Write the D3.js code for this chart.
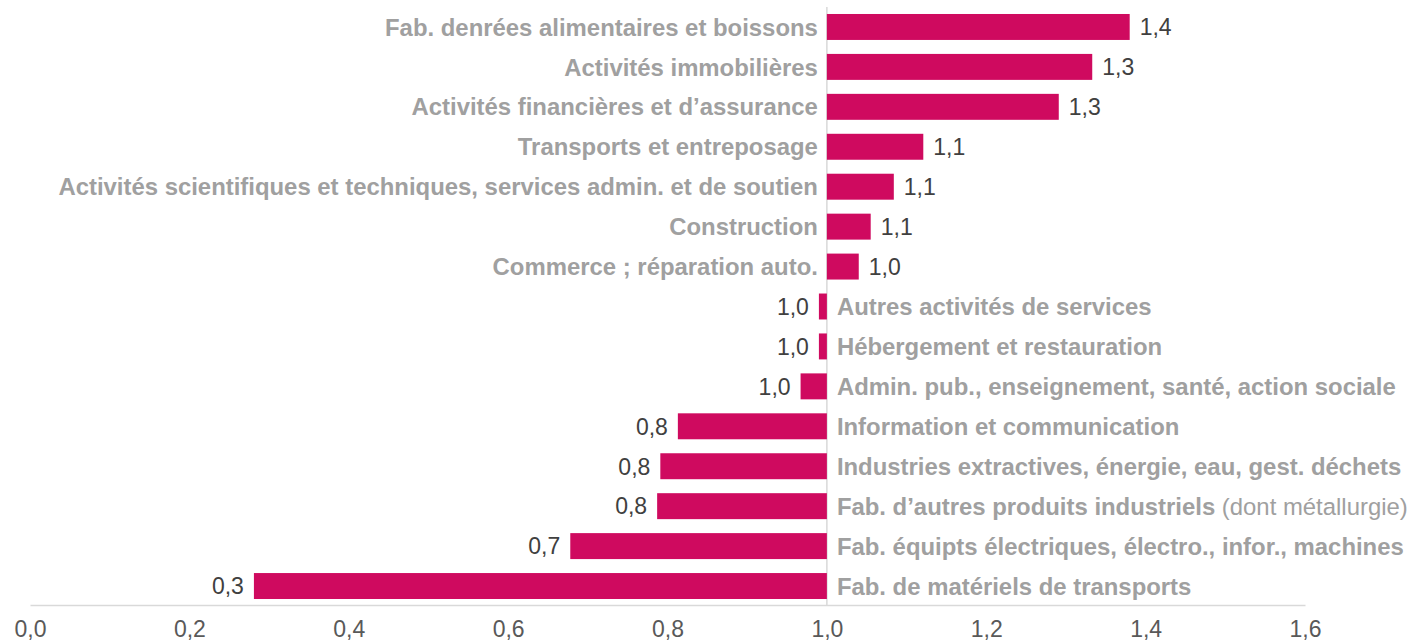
<!DOCTYPE html>
<html><head><meta charset="utf-8">
<script src="https://cdn.jsdelivr.net/npm/d3@7"></script>
<style>
html,body{margin:0;padding:0;background:#fff;}
svg{display:block;font-family:"Liberation Sans",Arial,sans-serif;}
</style></head>
<body>
<svg id="chart" width="1413" height="644"></svg>
<script>
const categories = [
  "Fab. denrées alimentaires et boissons",
  "Activités immobilières",
  "Activités financières et d’assurance",
  "Transports et entreposage",
  "Activités scientifiques et techniques, services admin. et de soutien",
  "Construction",
  "Commerce ; réparation auto.",
  "Autres activités de services",
  "Hébergement et restauration",
  "Admin. pub., enseignement, santé, action sociale",
  "Information et communication",
  "Industries extractives, énergie, eau, gest. déchets",
  "Fab. d’autres produits industriels",
  "Fab. équipts électriques, électro., infor., machines",
  "Fab. de matériels de transports"
];
const notes = ["","","","","","","","","","","",""," (dont métallurgie)","",""];
const values = [1.38, 1.333, 1.291, 1.121, 1.084, 1.055, 1.04, 0.99, 0.99, 0.967, 0.813, 0.791, 0.787, 0.678, 0.281];
const tickValues = [0, 0.2, 0.4, 0.6, 0.8, 1.0, 1.2, 1.4, 1.6];
const baseline = 1.0;

const svg = d3.select("#chart");
const x = d3.scaleLinear().domain([0, 1.6]).range([30, 1305]);
const y = d3.scaleBand().domain(categories).range([7, 606]).paddingInner(0.35).paddingOuter(0.175);
const fmt = v => d3.format(".1f")(v).replace(".", ",");

// axis
const axis = d3.axisBottom(x).tickValues(tickValues).tickSize(0).tickPadding(16).tickFormat(fmt);
const gAxis = svg.append("g").attr("transform", `translate(0,605)`).call(axis);
gAxis.select(".domain").attr("stroke", "#d9d9d9").attr("stroke-width", 1.5);
gAxis.selectAll("text").attr("font-size", 23).attr("fill", "#595959").attr("font-family", "Liberation Sans, Arial, sans-serif");

// baseline vertical
svg.append("line").attr("x1", x(baseline)).attr("x2", x(baseline)).attr("y1", 7).attr("y2", 605)
  .attr("stroke", "#d9d9d9").attr("stroke-width", 1.5);

const data = categories.map((c, i) => ({c, v: values[i], note: notes[i]}));

svg.append("g").selectAll("rect").data(data).join("rect")
  .attr("x", d => x(Math.min(d.v, baseline)))
  .attr("width", d => Math.abs(x(d.v) - x(baseline)))
  .attr("y", d => y(d.c))
  .attr("height", y.bandwidth())
  .attr("fill", "#cf0a5f");

// value labels
svg.append("g").selectAll("text").data(data).join("text")
  .attr("x", d => d.v >= baseline ? x(d.v) + 10 : x(d.v) - 10)
  .attr("y", d => y(d.c) + y.bandwidth() / 2)
  .attr("dy", "0.36em")
  .attr("text-anchor", d => d.v >= baseline ? "start" : "end")
  .attr("font-size", 23).attr("fill", "#404040")
  .text(d => fmt(d.v));

// category labels
const cl = svg.append("g").selectAll("text").data(data).join("text")
  .attr("x", d => d.v >= baseline ? x(baseline) - 9 : x(baseline) + 10)
  .attr("y", d => y(d.c) + y.bandwidth() / 2)
  .attr("dy", "0.36em")
  .attr("text-anchor", d => d.v >= baseline ? "end" : "start")
  .attr("font-size", 23.9).attr("fill", "#a0a0a0");
cl.append("tspan").attr("font-weight", "bold").text(d => d.c);
cl.append("tspan").attr("font-weight", "normal").text(d => d.note);
</script>
</body></html>
